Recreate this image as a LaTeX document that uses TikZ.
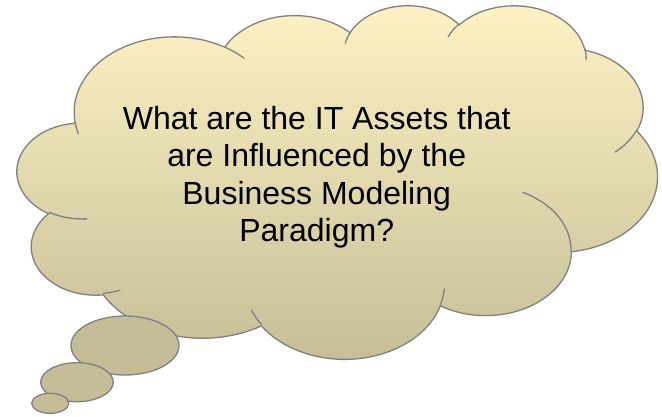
\documentclass[tikz,border=0pt]{standalone}
\usepackage{fontspec}
\setmainfont{Liberation Sans}
\definecolor{cloudtop}{HTML}{FEF3C4}
\definecolor{cloudbot}{HTML}{C4BD97}
\definecolor{cloudline}{HTML}{808080}
\newcommand\ooarc[4]{arc[x radius=#1, y radius=#2, start angle={atan2((#1)*sin(#3),(#2)*cos(#3))}, delta angle={mod(atan2((#1)*sin((#3)+(#4)),(#2)*cos((#3)+(#4)))-atan2((#1)*sin(#3),(#2)*cos(#3))+720,360)}]}
\begin{document}
\begin{tikzpicture}[x=1pt,y=-1pt,
  outl/.style={draw=cloudline,line width=1.3pt},
  qtext/.style={anchor=base,inner sep=0pt,font=\fontsize{32}{37.5}\selectfont}]
\useasboundingbox (0,0) rectangle (662,417);
\begin{scope}[shift={(17.3pt,-4.6pt)}, x=1.48148pt, y=-0.81829pt]
  \path[outl, top color=cloudtop, bottom color=cloudbot]
    (39,143.7)
    \ooarc{67.53}{91.90}{-190.48748}{123.78053}
    \ooarc{53.33}{72.67}{-144.10238}{89.94523}
    \ooarc{43.65}{59.45}{-145.80792}{99.72302}
    \ooarc{48.57}{65.95}{-130.98607}{117.24173}
    \ooarc{53.33}{72.73}{-78.70888}{109.02692}
    \ooarc{67.75}{92.20}{-46.26725}{130.26900}
    \ooarc{57.85}{78.67}{0.62502}{114.03333}
    \ooarc{67.52}{92.15}{22.45160}{115.17255}
    \ooarc{77.20}{105.43}{66.24263}{75.71102}
    \ooarc{43.60}{59.18}{-274.94208}{146.73557}
    \ooarc{43.45}{59.45}{-246.82850}{152.51885}
    -- cycle;
  \draw[outl, line cap=round]
    (46.93,261.77) \ooarc{43.45}{59.45}{86.7420}{26.4295}
    (69.28,348.99) \ooarc{43.60}{59.18}{73.61047}{11.44747}
    (164.78,390.90) \ooarc{67.52}{92.15}{137.62415}{14.08110}
    (288.27,347.51) \ooarc{67.52}{92.15}{6.45327}{15.99835}
    (341.29,229.54) \ooarc{57.85}{78.67}{-70.29235}{70.91737}
    (417.98,153.54) \ooarc{53.33}{72.73}{30.31803}{27.75150}
    (383.24,54.26) \ooarc{48.57}{65.95}{-13.74433}{14.85890}
    (290.78,39.52) \ooarc{48.57}{65.95}{-149.18145}{18.19537}
    (221.41,47.20) \ooarc{43.65}{59.45}{-163.49427}{17.68635}
    (140.00,51.92) \ooarc{67.53}{91.90}{-66.70695}{12.31935}
    (41.27,157.89) \ooarc{67.53}{91.90}{157.65435}{11.85817};
\end{scope}
\path[outl, fill=cloudbot] (125,345.5) ellipse [x radius=54, y radius=29.5];
\path[outl, fill=cloudbot] (77,382.2) ellipse [x radius=36.3, y radius=19.5];
\path[outl, fill=cloudbot] (50.2,403.3) ellipse [x radius=18.5, y radius=10];
\node[qtext] (t1) at (316.7,129.3) {What are the IT Assets that};
\node[qtext] (t2) at (316.7,166.8) {are Influenced by the};
\node[qtext] (t3) at (316.7,204.3) {Business Modeling};
\node[qtext] (t4) at (316.7,241.8) {Paradigm?};
\end{tikzpicture}
\end{document}
